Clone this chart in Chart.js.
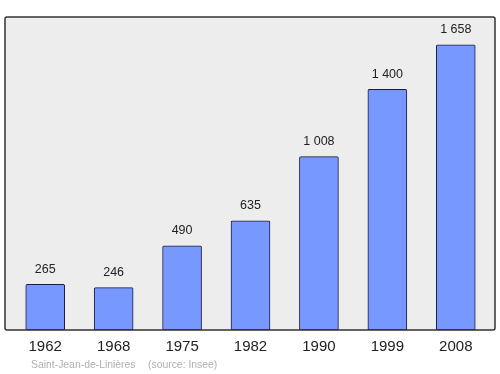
<!DOCTYPE html>
<html>
<head>
<meta charset="utf-8">
<script src="https://cdn.jsdelivr.net/npm/chart.js@4/dist/chart.umd.min.js"></script>
<style>
  html, body { margin: 0; padding: 0; background: #fff; }
  #wrap { width: 500px; height: 374px; position: relative; }
</style>
</head>
<body>
<div id="wrap"><canvas id="chart"></canvas></div>
<script>
// Years and population
let years = ["1962", "1968", "1975", "1982", "1990", "1999", "2008"];
let population = [265, 246, 490, 635, 1008, 1400, 1658];
let valueLabels = ["265", "246", "490", "635", "1 008", "1 400", "1 658"];
let sourceText = ["Saint-Jean-de-Linières", "(source: Insee)"];

let fontName = '"Liberation Sans", Arial, sans-serif';

// Frame + labels drawn around the chart area
const framePlugin = {
  id: 'frame',
  beforeDatasetsDraw(chart) {
    const ctx = chart.ctx;
    const a = chart.chartArea;
    ctx.save();
    ctx.fillStyle = '#ededed';
    ctx.fillRect(5, a.top, 490, a.bottom - a.top);
    ctx.restore();
  },
  afterDatasetsDraw(chart) {
    const ctx = chart.ctx;
    const a = chart.chartArea;
    const xs = chart.scales.x;
    const ys = chart.scales.y;
    ctx.save();
    ctx.strokeStyle = '#333';
    ctx.lineWidth = 1.5;
    ctx.beginPath();
    ctx.roundRect(5, a.top, 490, a.bottom - a.top, 2);
    ctx.stroke();

    ctx.fillStyle = '#222';
    ctx.textAlign = 'center';
    ctx.textBaseline = 'middle';
    ctx.font = '12.5px ' + fontName;
    for (let i in population) {
      let x = xs.getPixelForValue(Number(i));
      let y = ys.getPixelForValue(population[i]);
      ctx.fillText(valueLabels[i], x, y - 15);
    }

    ctx.font = '15px ' + fontName;
    for (let i in years) {
      let x = xs.getPixelForValue(Number(i));
      ctx.fillText(years[i], x, a.bottom + 17);
    }

    ctx.fillStyle = '#b0b0b0';
    ctx.textAlign = 'left';
    ctx.font = '10.4px ' + fontName;
    ctx.fillText(sourceText[0], 31, 365);
    ctx.fillText(sourceText[1], 148, 365);
    ctx.restore();
  }
};

new Chart(document.getElementById('chart'), {
  type: 'bar',
  data: {
    labels: years,
    datasets: [{
      data: population,
      backgroundColor: '#7799ff',
      borderColor: '#1c1c40',
      borderWidth: 1,
      borderRadius: 1.5,
      borderSkipped: false,
      barThickness: 39
    }]
  },
  options: {
    responsive: true,
    maintainAspectRatio: false,
    animation: false,
    devicePixelRatio: 1,
    layout: { padding: { left: 11, right: 10, top: 17, bottom: 44 } },
    plugins: { legend: { display: false }, tooltip: { enabled: false } },
    scales: {
      x: { display: false, offset: true },
      y: { display: false, min: 0, max: 1820 }
    }
  },
  plugins: [framePlugin]
});
</script>
</body>
</html>
